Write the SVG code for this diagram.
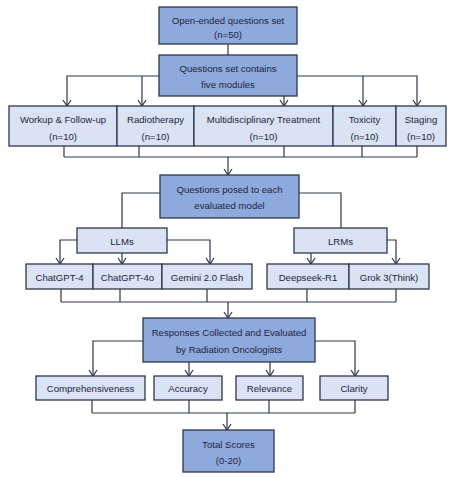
<svg xmlns="http://www.w3.org/2000/svg" width="450" height="477" viewBox="0 0 450 477">
<defs>
<style>
.dark{fill:#8eaadc;stroke:#2e3747;stroke-width:1.3}
.light{fill:#dae3f3;stroke:#2e3747;stroke-width:1.3}
text{font-family:"Liberation Sans",Arial,sans-serif;font-size:9.6px;fill:#1c2540;text-anchor:middle}
.conn path{fill:none;stroke:#2e3747;stroke-width:1.2}
</style>
<marker id="ar" viewBox="-1 -5 8 10" refX="6" refY="0" markerWidth="8" markerHeight="10" markerUnits="userSpaceOnUse" orient="auto">
<path d="M0,-4 L6,0 L0,4" fill="none" stroke="#2e3747" stroke-width="1.2"/>
</marker>
</defs>
<rect width="450" height="477" fill="#ffffff"/>
<g class="conn" id="connectors">
<path d="M228,44 V55"/>
<path d="M159,76 H67 V106" marker-end="url(#ar)"/>
<path d="M142,76 V106" marker-end="url(#ar)"/>
<path d="M297,76 H417 V106" marker-end="url(#ar)"/>
<path d="M363,76 V106" marker-end="url(#ar)"/>
<path d="M284,96 V106" marker-end="url(#ar)"/>
<path d="M64,146 V157 M139,146 V157 M284,146 V157 M362,146 V157 M417,146 V157 M64,157 H417"/>
<path d="M228,157 V175" marker-end="url(#ar)"/>
<path d="M160,193 H122 V228"/>
<path d="M299,193 H341 V228"/>
<path d="M77,240 H60 V264" marker-end="url(#ar)"/>
<path d="M122,253 V264" marker-end="url(#ar)"/>
<path d="M167,240 H210 V264" marker-end="url(#ar)"/>
<path d="M311,253 V264" marker-end="url(#ar)"/>
<path d="M387,240 H396 V264" marker-end="url(#ar)"/>
<path d="M61,289 V302 M120,289 V302 M207,289 V302 M307,289 V302 M396,289 V302 M61,302 H396"/>
<path d="M228,302 V318" marker-end="url(#ar)"/>
<path d="M143,341 H93 V376" marker-end="url(#ar)"/>
<path d="M315,341 H355 V376" marker-end="url(#ar)"/>
<path d="M189,362 V376" marker-end="url(#ar)"/>
<path d="M270,362 V376" marker-end="url(#ar)"/>
<path d="M92,400 V413 M189,400 V413 M269,400 V413 M355,400 V413 M92,413 H355"/>
<path d="M227,413 V430" marker-end="url(#ar)"/>
</g>
<g id="n_open"><rect class="dark" x="159" y="7" width="138" height="37"/><text x="228" y="23.5">Open-ended questions set</text><text x="228" y="38">(n=50)</text></g>
<g id="n_modules"><rect class="dark" x="159" y="55" width="138" height="41"/><text x="228" y="71.5">Questions set contains</text><text x="228" y="87.5">five modules</text></g>
<g id="n_workup"><rect class="light" x="9" y="106" width="108" height="40"/><text x="63" y="122.5">Workup &amp; Follow-up</text><text x="63" y="139.5">(n=10)</text></g>
<g id="n_radio"><rect class="light" x="117" y="106" width="77" height="40"/><text x="155.5" y="122.5">Radiotherapy</text><text x="155.5" y="139.5">(n=10)</text></g>
<g id="n_multi"><rect class="light" x="194" y="106" width="139" height="40"/><text x="263.5" y="122.5">Multidisciplinary Treatment</text><text x="263.5" y="139.5">(n=10)</text></g>
<g id="n_tox"><rect class="light" x="333" y="106" width="63" height="40"/><text x="364.5" y="122.5">Toxicity</text><text x="364.5" y="139.5">(n=10)</text></g>
<g id="n_staging"><rect class="light" x="396" y="106" width="50" height="40"/><text x="421" y="122.5">Staging</text><text x="421" y="139.5">(n=10)</text></g>
<g id="n_posed"><rect class="dark" x="160" y="175" width="139" height="43"/><text x="229.5" y="192.5">Questions posed to each</text><text x="229.5" y="209">evaluated model</text></g>
<g id="n_llms"><rect class="light" x="77" y="228" width="90" height="25"/><text x="122" y="244.5">LLMs</text></g>
<g id="n_lrms"><rect class="light" x="294" y="228" width="93" height="25"/><text x="340.5" y="244.5">LRMs</text></g>
<g id="n_gpt4"><rect class="light" x="26" y="264" width="67" height="25"/><text x="59.5" y="280.5">ChatGPT-4</text></g>
<g id="n_gpt4o"><rect class="light" x="93" y="264" width="69" height="25"/><text x="127.5" y="280.5">ChatGPT-4o</text></g>
<g id="n_gemini"><rect class="light" x="162" y="264" width="90" height="25"/><text x="207" y="280.5">Gemini 2.0 Flash</text></g>
<g id="n_deepseek"><rect class="light" x="267" y="264" width="82" height="25"/><text x="308" y="280.5">Deepseek-R1</text></g>
<g id="n_grok"><rect class="light" x="349" y="264" width="80" height="25"/><text x="389" y="280.5">Grok 3(Think)</text></g>
<g id="n_responses"><rect class="dark" x="143" y="318" width="172" height="44"/><text x="229" y="335.5">Responses Collected and Evaluated</text><text x="229" y="352.5">by Radiation Oncologists</text></g>
<g id="n_comp"><rect class="light" x="36" y="376" width="109" height="24"/><text x="90.5" y="391.5">Comprehensiveness</text></g>
<g id="n_acc"><rect class="light" x="154" y="376" width="68" height="24"/><text x="188" y="391.5">Accuracy</text></g>
<g id="n_rel"><rect class="light" x="236" y="376" width="67" height="24"/><text x="269.5" y="391.5">Relevance</text></g>
<g id="n_clar"><rect class="light" x="320" y="376" width="68" height="24"/><text x="354" y="391.5">Clarity</text></g>
<g id="n_total"><rect class="dark" x="183" y="430" width="91" height="42"/><text x="228.5" y="447.5">Total Scores</text><text x="228.5" y="464">(0-20)</text></g>
</svg>
